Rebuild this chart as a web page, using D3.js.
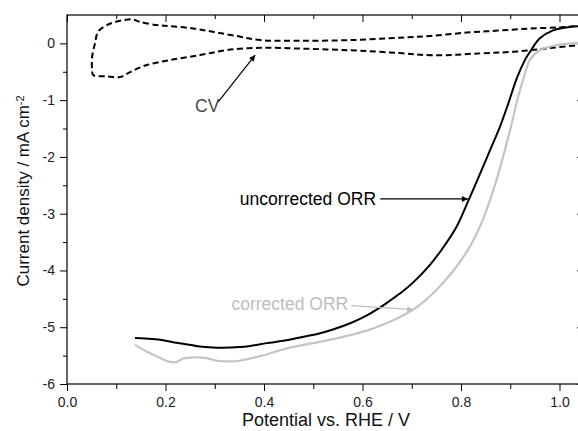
<!DOCTYPE html>
<html>
<head>
<meta charset="utf-8">
<script src="https://cdn.jsdelivr.net/npm/d3@7"></script>
<style>
  html, body { margin: 0; padding: 0; background: #fff; }
  svg { display: block; font-family: "Liberation Sans", Arial, sans-serif; }
</style>
</head>
<body>
<svg id="chart" width="578" height="431"></svg>
<script>
// ---- data (potential V vs RHE, current density mA cm^-2) ----
const xMajorTicks = [0.0, 0.2, 0.4, 0.6, 0.8, 1.0];
const xMinorTicks = [0.1, 0.3, 0.5, 0.7, 0.9];
const yMajorTicks = [-6, -5, -4, -3, -2, -1, 0];
const yMinorTicks = [-5.5, -4.5, -3.5, -2.5, -1.5, -0.5];

const uncorrectedORR = [
  [0.138,-5.19],[0.158,-5.20],[0.189,-5.22],[0.213,-5.26],[0.236,-5.29],[0.270,-5.34],
  [0.305,-5.36],[0.351,-5.35],[0.372,-5.33],[0.406,-5.28],[0.439,-5.24],[0.473,-5.18],
  [0.508,-5.12],[0.540,-5.04],[0.575,-4.93],[0.609,-4.79],[0.636,-4.65],[0.656,-4.53],
  [0.680,-4.38],[0.703,-4.21],[0.737,-3.90],[0.761,-3.63],[0.791,-3.23],[0.815,-2.77],
  [0.839,-2.29],[0.859,-1.88],[0.879,-1.47],[0.896,-1.06],[0.913,-0.62],[0.930,-0.29],
  [0.940,-0.15],[0.960,0.09],[0.987,0.23],[1.021,0.29],[1.05,0.31]
];
const correctedORR = [
  [0.138,-5.31],[0.169,-5.46],[0.189,-5.54],[0.209,-5.61],[0.223,-5.61],[0.236,-5.55],
  [0.256,-5.53],[0.280,-5.54],[0.305,-5.59],[0.331,-5.60],[0.351,-5.59],[0.392,-5.51],
  [0.439,-5.39],[0.493,-5.29],[0.540,-5.21],[0.575,-5.14],[0.609,-5.06],[0.646,-4.94],
  [0.676,-4.82],[0.711,-4.64],[0.747,-4.37],[0.784,-4.01],[0.818,-3.58],[0.845,-3.09],
  [0.872,-2.41],[0.889,-1.88],[0.903,-1.41],[0.916,-0.94],[0.930,-0.53],[0.940,-0.29],
  [0.960,-0.12],[0.994,-0.03],[1.038,0.01],[1.05,0.01]
];
const cvLoop = [
  [1.05,0.31],[1.038,0.305],[1.001,0.282],[0.940,0.262],[0.875,0.225],[0.812,0.19],
  [0.737,0.13],[0.676,0.099],[0.575,0.058],[0.473,0.046],[0.392,0.058],[0.345,0.129],
  [0.296,0.204],[0.256,0.264],[0.209,0.305],[0.183,0.322],[0.148,0.380],[0.132,0.423],
  [0.108,0.398],[0.081,0.322],[0.063,0.204],[0.057,0.005],[0.051,-0.236],[0.051,-0.470],
  [0.053,-0.558],[0.080,-0.580],[0.108,-0.593],[0.128,-0.505],[0.162,-0.382],[0.209,-0.294],
  [0.270,-0.206],[0.325,-0.118],[0.392,-0.077],[0.459,-0.088],[0.528,-0.106],[0.595,-0.130],
  [0.676,-0.171],[0.743,-0.210],[0.839,-0.176],[0.906,-0.148],[0.974,-0.088],[1.038,-0.030],
  [1.05,-0.02]
];

// annotation anchors in data units
const annotations = [
  {text: "CV", color: "#4a4a4a", at: [0.26, -1.21], from: [0.307, -1.03], to: [0.382, -0.206]},
  {text: "uncorrected ORR", color: "#000000", at: [0.351, -2.85], from: [0.636, -2.74], to: [0.814, -2.74]},
  {text: "corrected ORR", color: "#bdbdbd", at: [0.334, -4.70], from: [0.577, -4.62], to: [0.703, -4.69]}
];

// ---- layout ----
const svg = d3.select("#chart");
const mLeft = 67, mTop = 15, mBottom = 384;
const x = d3.scaleLinear().domain([0, 1.05]).range([mLeft, mLeft + 492.5 * 1.05]);
const y = d3.scaleLinear().domain([-6, 0.5]).range([mBottom, mTop]);
const mRight = x(1.05);

svg.append("rect").attr("width", 578).attr("height", 431).attr("fill", "#fff");

// defs
const defs = svg.append("defs");
defs.append("clipPath").attr("id", "plotclip").append("rect")
  .attr("x", mLeft).attr("y", mTop).attr("width", mRight - mLeft).attr("height", mBottom - mTop);
function marker(id, color) {
  defs.append("marker").attr("id", id).attr("viewBox", "0 0 10 10")
    .attr("refX", 10).attr("refY", 5).attr("markerWidth", 10).attr("markerHeight", 6)
    .attr("markerUnits", "userSpaceOnUse").attr("orient", "auto")
    .append("path").attr("d", "M0,0 L10,5 L0,10 Z").attr("fill", color);
}
marker("arrBlack", "#000");
marker("arrGray", "#bdbdbd");

// axes
const tickFont = "14px";
function styleAxis(g) {
  g.select(".domain").remove();
  g.selectAll("line").attr("stroke", "#000").attr("stroke-width", 1);
  g.selectAll("text").attr("fill", "#222").style("font-size", tickFont)
    .style("font-family", "'Liberation Sans', Arial, sans-serif");
}
svg.append("g").attr("transform", `translate(0,${mBottom})`)
  .call(d3.axisBottom(x).tickValues(xMajorTicks).tickSize(7).tickPadding(6).tickFormat(d3.format(".1f")))
  .call(styleAxis);
svg.append("g").attr("transform", `translate(0,${mBottom})`)
  .call(d3.axisBottom(x).tickValues(xMinorTicks).tickSize(5).tickFormat(""))
  .call(styleAxis);
svg.append("g").attr("transform", `translate(0,${mTop})`)
  .call(d3.axisBottom(x).tickValues(xMajorTicks).tickSize(7).tickFormat(""))
  .call(styleAxis);
svg.append("g").attr("transform", `translate(0,${mTop})`)
  .call(d3.axisBottom(x).tickValues(xMinorTicks).tickSize(4).tickFormat(""))
  .call(styleAxis);
svg.append("g").attr("transform", `translate(${mLeft},0)`)
  .call(d3.axisLeft(y).tickValues(yMajorTicks).tickSize(7).tickPadding(5).tickFormat(d => String(d)))
  .call(styleAxis);
svg.append("g").attr("transform", `translate(${mLeft},0)`)
  .call(d3.axisLeft(y).tickValues(yMinorTicks).tickSize(4).tickFormat(""))
  .call(styleAxis);
svg.append("g").attr("transform", `translate(${mRight},0)`)
  .call(d3.axisLeft(y).tickValues(yMajorTicks).tickSize(7).tickFormat(""))
  .call(styleAxis);
svg.append("g").attr("transform", `translate(${mRight},0)`)
  .call(d3.axisLeft(y).tickValues(yMinorTicks).tickSize(4).tickFormat(""))
  .call(styleAxis);

// frame
svg.append("rect").attr("x", mLeft).attr("y", mTop).attr("width", mRight - mLeft).attr("height", mBottom - mTop)
  .attr("fill", "none").attr("stroke", "#000").attr("stroke-width", 1.2);

// curves
const line = d3.line().x(d => x(d[0])).y(d => y(d[1])).curve(d3.curveCatmullRom.alpha(0.5));
const plot = svg.append("g").attr("clip-path", "url(#plotclip)");
plot.append("path").datum(cvLoop).attr("d", line).attr("fill", "none")
  .attr("stroke", "#000").attr("stroke-width", 2).attr("stroke-dasharray", "6,3.5");
plot.append("path").datum(correctedORR).attr("d", line).attr("fill", "none")
  .attr("stroke", "#c4c4c4").attr("stroke-width", 2.2);
plot.append("path").datum(uncorrectedORR).attr("d", line).attr("fill", "none")
  .attr("stroke", "#000").attr("stroke-width", 2);

// annotations
annotations.forEach(a => {
  const isGray = a.color === "#bdbdbd";
  svg.append("line")
    .attr("x1", x(a.from[0])).attr("y1", y(a.from[1]))
    .attr("x2", x(a.to[0])).attr("y2", y(a.to[1]))
    .attr("stroke", isGray ? "#bdbdbd" : "#000").attr("stroke-width", 1.2)
    .attr("marker-end", isGray ? "url(#arrGray)" : "url(#arrBlack)");
  svg.append("text").attr("x", x(a.at[0])).attr("y", y(a.at[1]))
    .attr("fill", a.color).style("font-size", "17.5px").text(a.text);
});

// axis titles
svg.append("text").attr("x", 326).attr("y", 426).attr("text-anchor", "middle")
  .attr("fill", "#111").style("font-size", "18px").text("Potential vs. RHE / V");
const yt = svg.append("text").attr("transform", "translate(28.5,191) rotate(-90)")
  .attr("text-anchor", "middle").attr("fill", "#111").style("font-size", "17px");
yt.append("tspan").text("Current density / mA cm");
yt.append("tspan").attr("dy", "-0.45em").style("font-size", "11px").text("-2");
</script>
</body>
</html>
